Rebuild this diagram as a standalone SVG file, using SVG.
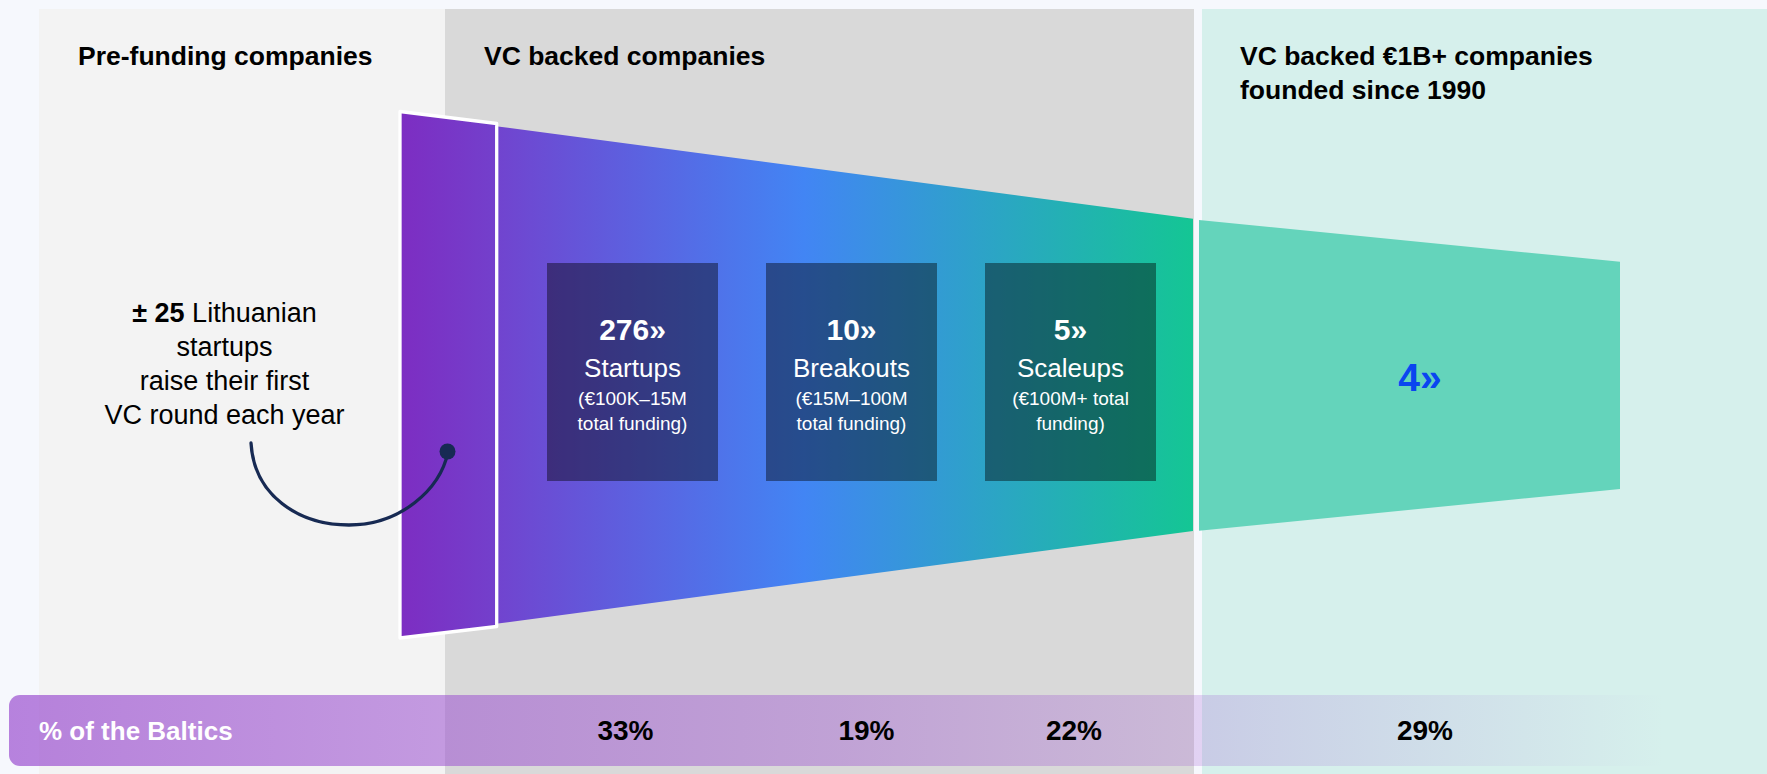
<svg xmlns="http://www.w3.org/2000/svg" width="1767" height="774" viewBox="0 0 1767 774">
  <defs>
    <linearGradient id="funnelGrad" gradientUnits="userSpaceOnUse" x1="498" y1="0" x2="1193" y2="0">
      <stop offset="0" stop-color="#7144CF"/>
      <stop offset="0.44" stop-color="#4285F4"/>
      <stop offset="1" stop-color="#14C694"/>
    </linearGradient>
    <linearGradient id="slabGrad" gradientUnits="userSpaceOnUse" x1="400" y1="0" x2="497" y2="0">
      <stop offset="0" stop-color="#7D2DC2"/>
      <stop offset="1" stop-color="#7340CC"/>
    </linearGradient>
    <linearGradient id="barGrad" gradientUnits="userSpaceOnUse" x1="9" y1="0" x2="1665" y2="0">
      <stop offset="0" stop-color="#9B4FD0" stop-opacity="0.7"/>
      <stop offset="0.5" stop-color="#9B4FD0" stop-opacity="0.4"/>
      <stop offset="1" stop-color="#9B4FD0" stop-opacity="0"/>
    </linearGradient>
    <style>
      .title { font-family: "Liberation Sans", Arial, sans-serif; font-weight: bold; font-size: 26.5px; fill: #000; }
      .num { font-family: "Liberation Sans", Arial, sans-serif; font-weight: bold; font-size: 30px; fill: #fff; text-anchor: middle; }
      .lbl { font-family: "Liberation Sans", Arial, sans-serif; font-size: 26px; fill: #fff; text-anchor: middle; }
      .sub { font-family: "Liberation Sans", Arial, sans-serif; font-size: 19px; fill: #fff; text-anchor: middle; }
      .note { font-family: "Liberation Sans", Arial, sans-serif; font-size: 27px; fill: #000; text-anchor: middle; }
      .pct { font-family: "Liberation Sans", Arial, sans-serif; font-weight: bold; font-size: 28px; fill: #000; text-anchor: middle; }
      .box { fill: #000; fill-opacity: 0.42; }
    </style>
  </defs>

  <rect x="0" y="0" width="1767" height="774" fill="#F6F8FD"/>

  <g id="panels">
    <rect x="39" y="9" width="406" height="765" fill="#F3F3F3"/>
    <rect x="445" y="9" width="749" height="765" fill="#D9D9D9"/>
    <rect x="1202" y="9" width="565" height="765" fill="#D6F0EC"/>
  </g>

  <g id="titles">
    <text class="title" x="78" y="65">Pre-funding companies</text>
    <text class="title" x="484" y="65">VC backed companies</text>
    <text class="title" x="1240" y="65">VC backed €1B+ companies</text>
    <text class="title" x="1240" y="99">founded since 1990</text>
  </g>

  <g id="funnel-vc">
    <polygon points="498,126.5 1193,218.7 1193,531 498,623.5" fill="url(#funnelGrad)"/>
  </g>

  <g id="funnel-unicorn">
    <polygon points="1199,220 1620,261.7 1620,489 1199,530.7" fill="#64D4BB"/>
    <text x="1420" y="391" font-family="Liberation Sans, Arial, sans-serif" font-weight="bold" font-size="39" fill="#0A45F0" text-anchor="middle">4»</text>
  </g>

  <g id="prefunding-slab">
    <polygon points="400,111.5 496.7,123.5 496.7,626.5 400,638" fill="url(#slabGrad)" stroke="#FFFFFF" stroke-width="3.3" stroke-linejoin="round"/>
  </g>

  <g id="node-startups">
    <rect class="box" x="547" y="263" width="171" height="218"/>
    <text class="num" x="632.5" y="340">276»</text>
    <text class="lbl" x="632.5" y="377">Startups</text>
    <text class="sub" x="632.5" y="405">(€100K–15M</text>
    <text class="sub" x="632.5" y="430">total funding)</text>
  </g>

  <g id="node-breakouts">
    <rect class="box" x="766" y="263" width="171" height="218"/>
    <text class="num" x="851.5" y="340">10»</text>
    <text class="lbl" x="851.5" y="377">Breakouts</text>
    <text class="sub" x="851.5" y="405">(€15M–100M</text>
    <text class="sub" x="851.5" y="430">total funding)</text>
  </g>

  <g id="node-scaleups">
    <rect class="box" x="985" y="263" width="171" height="218"/>
    <text class="num" x="1070.5" y="340">5»</text>
    <text class="lbl" x="1070.5" y="377">Scaleups</text>
    <text class="sub" x="1070.5" y="405">(€100M+ total</text>
    <text class="sub" x="1070.5" y="430">funding)</text>
  </g>

  <g id="note-prefunding">
    <text class="note" x="224.5" y="322"><tspan font-weight="bold">± 25</tspan> Lithuanian</text>
    <text class="note" x="224.5" y="356">startups</text>
    <text class="note" x="224.5" y="390">raise their first</text>
    <text class="note" x="224.5" y="424">VC round each year</text>
  </g>

  <g id="connectors">
    <path d="M251,443 C254,495 298,525 349,525 C400,525 440,490 448,452" fill="none" stroke="#172A53" stroke-width="3.3" stroke-linecap="round"/>
    <circle cx="447.5" cy="451.5" r="8" fill="#172A53"/>
  </g>

  <g id="baltics-bar">
    <rect x="9" y="695" width="1680" height="71" rx="11" ry="11" fill="url(#barGrad)"/>
    <text x="39" y="740" font-family="Liberation Sans, Arial, sans-serif" font-weight="bold" font-size="26" fill="#FFFFFF">% of the Baltics</text>
    <text class="pct" x="625.5" y="740">33%</text>
    <text class="pct" x="866.5" y="740">19%</text>
    <text class="pct" x="1074" y="740">22%</text>
    <text class="pct" x="1425" y="740">29%</text>
  </g>
</svg>
